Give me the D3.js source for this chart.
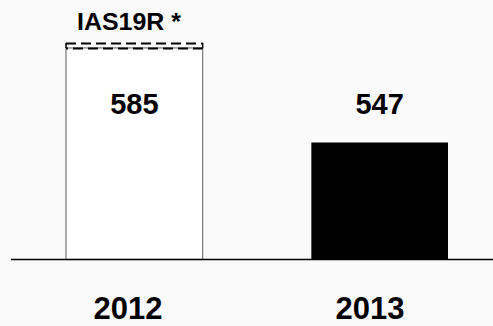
<!DOCTYPE html>
<html>
<head>
<meta charset="utf-8">
<script src="https://cdn.jsdelivr.net/npm/d3@7"></script>
<style>
  html, body { margin: 0; padding: 0; background: #fafafa; }
  svg { display: block; }
  text { font-family: "Liberation Sans", Arial, Helvetica, sans-serif; font-weight: bold; fill: #000; }
</style>
</head>
<body>
<svg id="chart" width="493" height="326"></svg>
<script>
// Pension obligations by year (2012 restated under IAS 19R)
const years = ["2012", "2013"];
const values = [585, 547];
const fills = ["#ffffff", "#000000"];
const restatedNote = "IAS19R *";

const svg = d3.select("#chart");
const W = 493, H = 326;
const baseY = 259.5;

const x = d3.scaleBand().domain(years).range([66, 448]).paddingInner(0.443).paddingOuter(0);
const y = d3.scaleLinear().domain([500, 600]).range([baseY, baseY - 248.9]);
// year captions sit slightly left of the bar centres
const xCap = d3.scalePoint().domain(years).range([128, 370]);

// bars
svg.selectAll("rect.bar").data(years).join("rect")
  .attr("class", "bar")
  .attr("x", d => x(d))
  .attr("y", (d, i) => y(values[i]))
  .attr("width", x.bandwidth())
  .attr("height", (d, i) => baseY - y(values[i]))
  .attr("fill", (d, i) => fills[i])
  .attr("stroke", (d, i) => i === 0 ? "#7a7a7a" : "none")
  .attr("stroke-width", 1.2);

// restated marker on the 2012 bar: sides extended and double dashed top
const b0 = x(years[0]), bw = x.bandwidth(), top0 = y(values[0]);
const marker = svg.append("g");
marker.append("line").attr("x1", b0).attr("x2", b0).attr("y1", top0).attr("y2", top0 - 5)
  .attr("stroke", "#000").attr("stroke-width", 1.5);
marker.append("line").attr("x1", b0 + bw).attr("x2", b0 + bw).attr("y1", top0).attr("y2", top0 - 5)
  .attr("stroke", "#000").attr("stroke-width", 1.5);
marker.append("line").attr("x1", b0).attr("x2", b0 + bw).attr("y1", top0 - 4.5).attr("y2", top0 - 4.5)
  .attr("stroke", "#000").attr("stroke-width", 2).attr("stroke-dasharray", "10,5");
marker.append("line").attr("x1", b0).attr("x2", b0 + bw).attr("y1", top0 + 0.5).attr("y2", top0 + 0.5)
  .attr("stroke", "#000").attr("stroke-width", 2).attr("stroke-dasharray", "10,5").attr("stroke-dashoffset", -7);

svg.append("text")
  .attr("x", 77).attr("y", 29.5)
  .attr("font-size", 23)
  .attr("textLength", 104)
  .attr("lengthAdjust", "spacingAndGlyphs")
  .text(restatedNote);

// value labels
svg.selectAll("text.val").data(years).join("text")
  .attr("class", "val")
  .attr("x", d => x(d) + x.bandwidth() / 2)
  .attr("y", 114)
  .attr("text-anchor", "middle")
  .attr("font-size", 29)
  .text((d, i) => values[i]);

// baseline
svg.append("line").attr("x1", 11).attr("x2", W).attr("y1", baseY).attr("y2", baseY)
  .attr("stroke", "#000").attr("stroke-width", 1.5);

// category labels
svg.selectAll("text.cat").data(years).join("text")
  .attr("class", "cat")
  .attr("x", d => xCap(d))
  .attr("y", 319)
  .attr("text-anchor", "middle")
  .attr("font-size", 31)
  .text(d => d);
</script>
</body>
</html>
